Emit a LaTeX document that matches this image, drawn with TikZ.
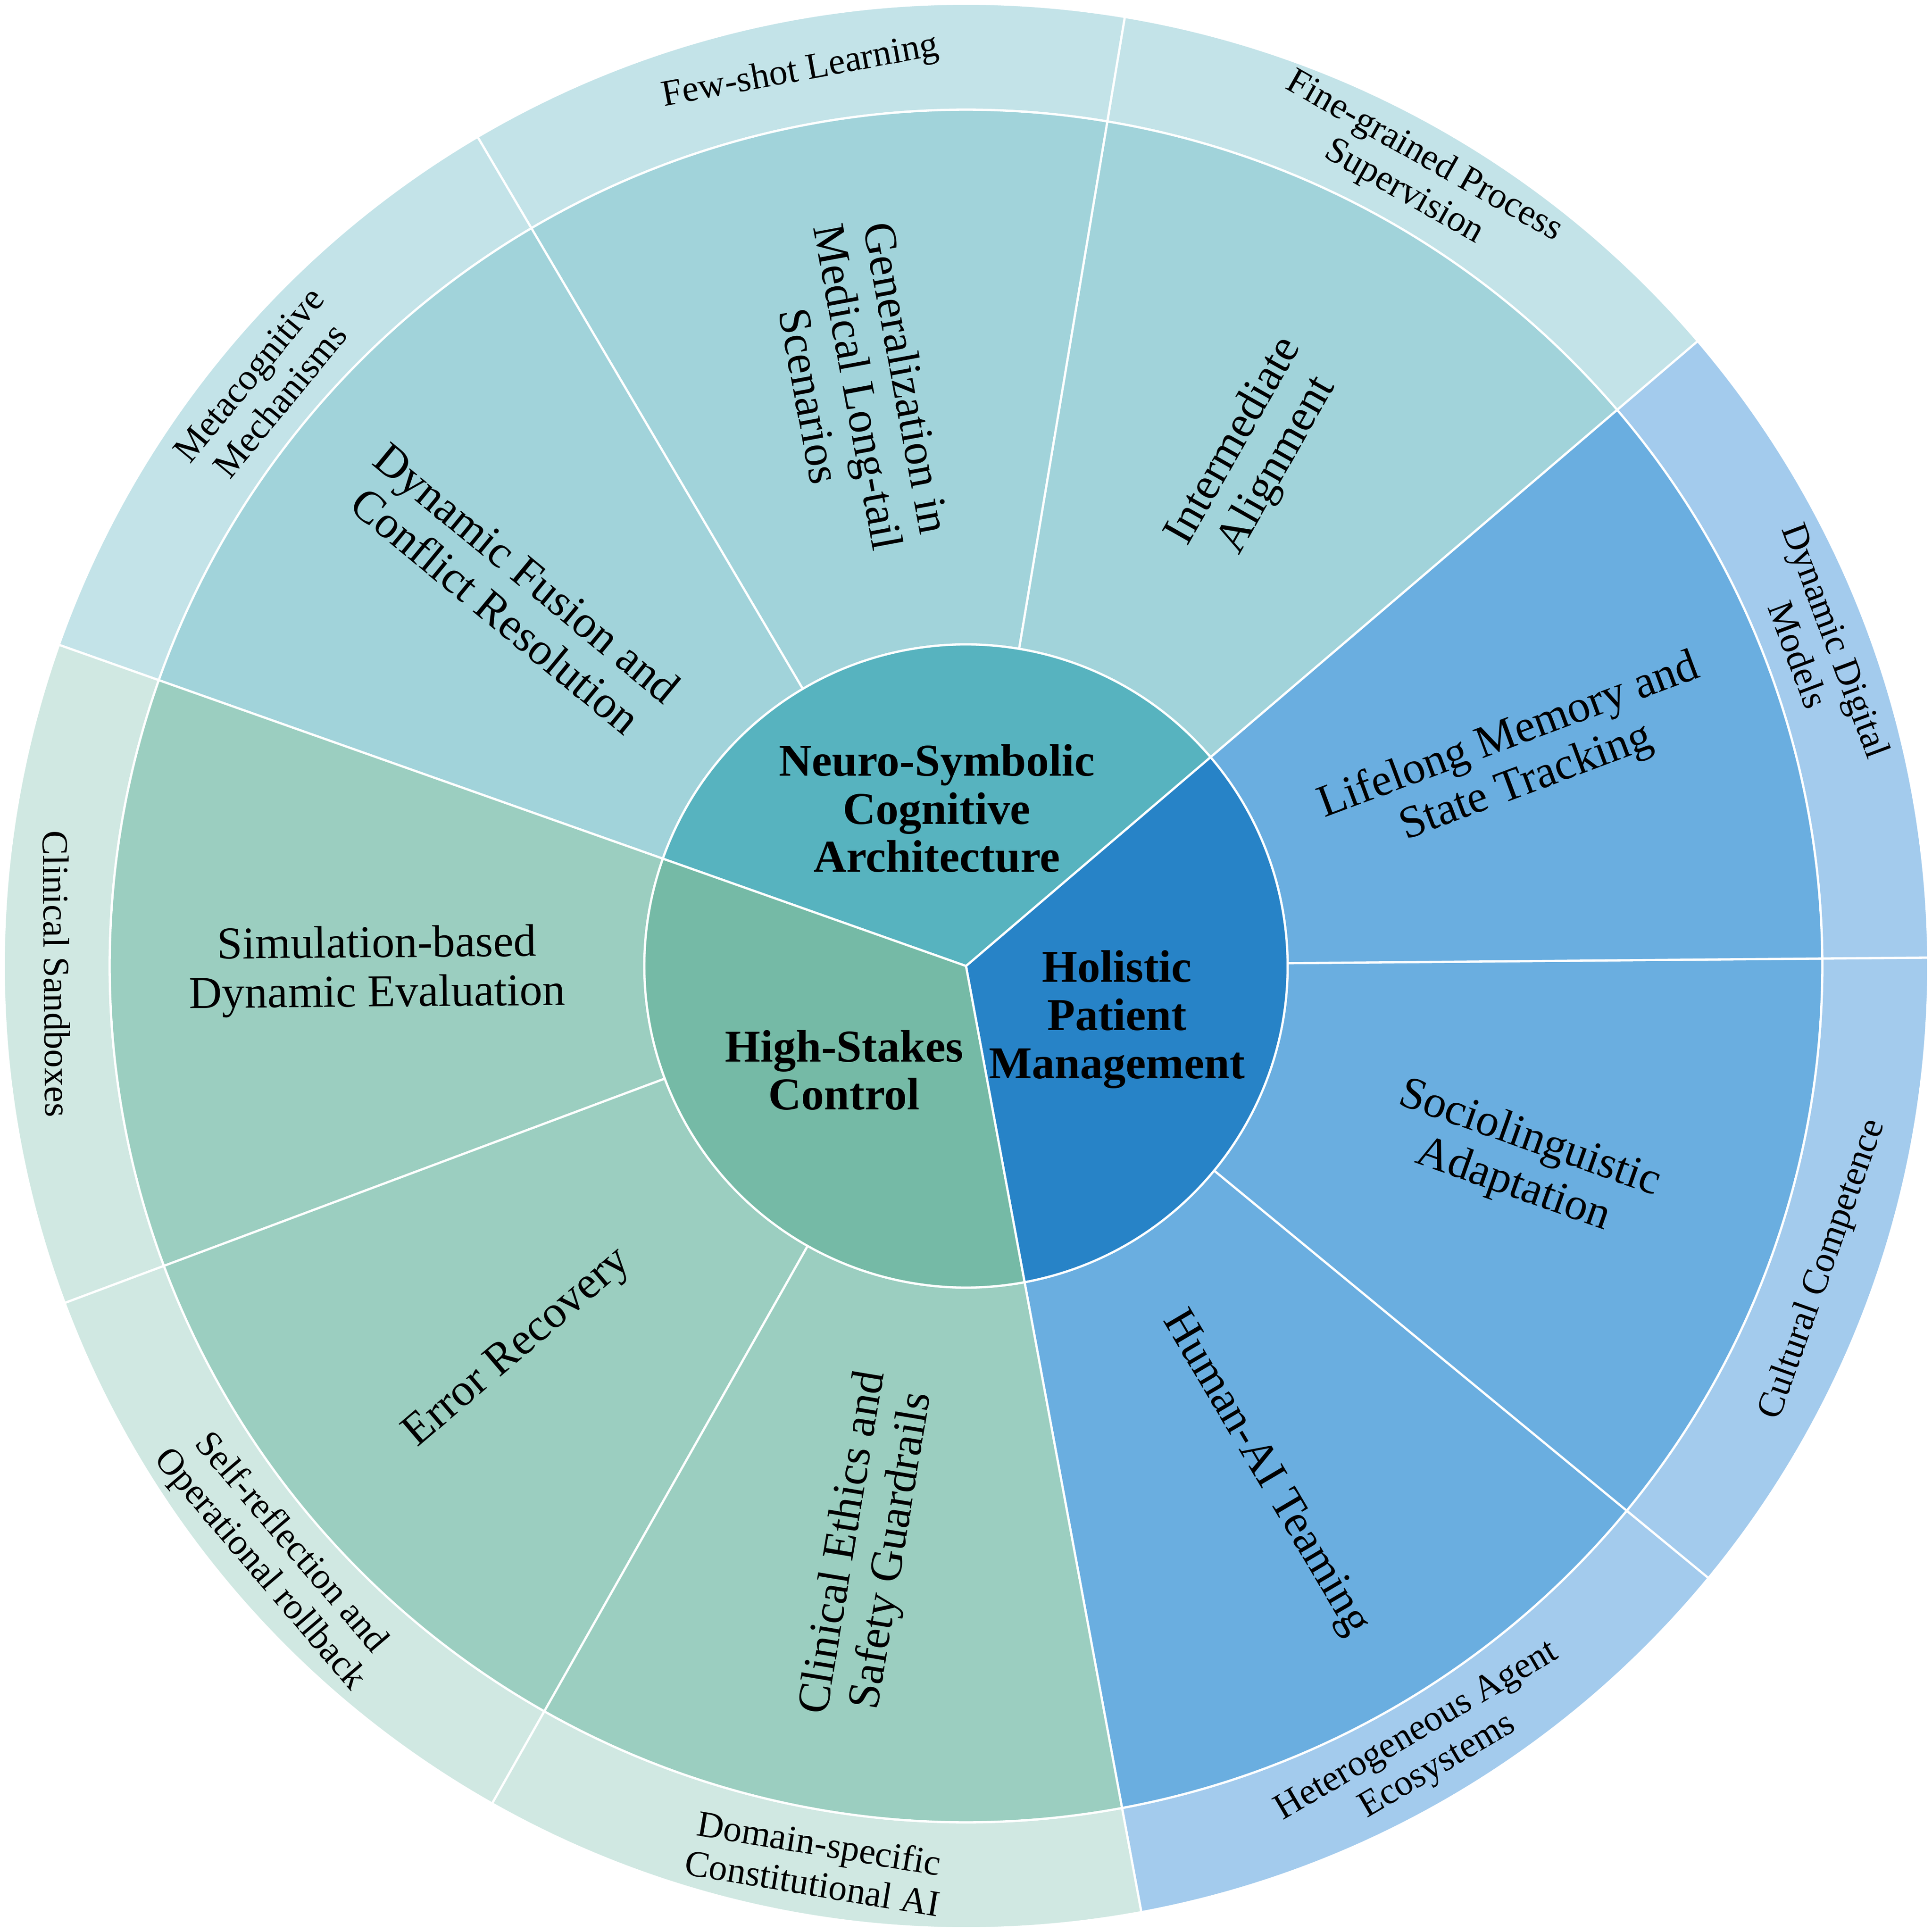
\documentclass[tikz,border=0pt]{standalone}
\usepackage{fontspec}
\setmainfont{Liberation Serif}
\usepackage{tikz}
\definecolor{hpmIn}{HTML}{2783C7}
\definecolor{hpmMid}{HTML}{6AAEE0}
\definecolor{hpmOut}{HTML}{A3CBED}
\definecolor{nscIn}{HTML}{57B3BF}
\definecolor{nscMid}{HTML}{A1D3DA}
\definecolor{nscOut}{HTML}{C3E3E8}
\definecolor{hscIn}{HTML}{75BAA6}
\definecolor{hscMid}{HTML}{9BCEC0}
\definecolor{hscOut}{HTML}{D0E8E2}

\begin{document}
\begin{tikzpicture}[
  seg/.style={draw=white, line width=1.8pt},
  hub/.style={font=\fontsize{37}{39}\selectfont\bfseries, align=center, inner sep=0pt},
  mid/.style={font=\fontsize{37}{40}\selectfont, align=center, inner sep=0pt},
  rim/.style={font=\fontsize{30}{33}\selectfont, align=center, inner sep=0pt}]
\useasboundingbox (-784pt,-784pt) rectangle (784pt,784pt);
% outer ring
\foreach \s/\c in {-79.5/hpmOut, -39.5/hpmOut, 0.5/hpmOut, 40.5/nscOut, 80.5/nscOut, 120.5/nscOut, 160.5/hscOut, 200.5/hscOut, 240.5/hscOut}
  \filldraw[seg, fill=\c] (\s:695pt) arc[start angle=\s, end angle=\s+40, radius=695pt] -- (\s+40:781pt) arc[start angle=\s+40, end angle=\s, radius=781pt] -- cycle;
% middle ring
\foreach \s/\c in {-79.5/hpmMid, -39.5/hpmMid, 0.5/hpmMid, 40.5/nscMid, 80.5/nscMid, 120.5/nscMid, 160.5/hscMid, 200.5/hscMid, 240.5/hscMid}
  \filldraw[seg, fill=\c] (\s:261pt) arc[start angle=\s, end angle=\s+40, radius=261pt] -- (\s+40:695pt) arc[start angle=\s+40, end angle=\s, radius=695pt] -- cycle;
% hub
\foreach \s/\c in {-79.5/hpmIn, 40.5/nscIn, 160.5/hscIn}
  \filldraw[seg, fill=\c] (0,0) -- (\s:261pt) arc[start angle=\s, end angle=\s+120, radius=261pt] -- cycle;

\node[hub] (nsc) at (100.5:130pt) {Neuro-Symbolic\\Cognitive\\Architecture};
\node[hub] (hpm) at (-19.5:130pt) {Holistic\\Patient\\Management};
\node[hub] (hsc) at (220.5:130pt) {High-Stakes\\Control};

\node[mid, rotate=20.5] (lmst) at (20.5:478pt) {Lifelong Memory and\\State Tracking};
\node[mid, rotate=-19.5] (sla) at (-19.5:478pt) {Sociolinguistic\\Adaptation};
\node[mid, rotate=-59.5] (hat) at (-59.5:478pt) {Human-AI Teaming};
\node[mid, rotate=60.5] (ia) at (60.5:478pt) {Intermediate\\Alignment};
\node[mid, rotate=-79.5] (gml) at (100.5:478pt) {Generalization in\\Medical Long-tail\\Scenarios};
\node[mid, rotate=-39.5] (dfcr) at (140.5:478pt) {Dynamic Fusion and\\Conflict Resolution};
\node[mid, rotate=0.5] (sde) at (180.5:478pt) {Simulation-based\\Dynamic Evaluation};
\node[mid, rotate=40.5] (er) at (220.5:478pt) {Error Recovery};
\node[mid, rotate=80.5] (cesg) at (260.5:478pt) {Clinical Ethics and\\Safety Guardrails};

\node[rim, rotate=-69.5] (ddm) at (20.5:738pt) {Dynamic Digital\\Models};
\node[rim, rotate=70.5] (cc) at (-19.5:738pt) {Cultural Competence};
\node[rim, rotate=30.5] (hae) at (-59.5:738pt) {Heterogeneous Agent\\Ecosystems};
\node[rim, rotate=-29.5] (fgps) at (60.5:738pt) {Fine-grained Process\\Supervision};
\node[rim, rotate=10.5] (fsl) at (100.5:738pt) {Few-shot Learning};
\node[rim, rotate=50.5] (mm) at (140.5:738pt) {Metacognitive\\Mechanisms};
\node[rim, rotate=-89.5] (cs) at (180.5:738pt) {Clinical Sandboxes};
\node[rim, rotate=-49.5] (sroa) at (220.5:738pt) {Self-reflection and\\Operational rollback};
\node[rim, rotate=-9.5] (dsca) at (260.5:738pt) {Domain-specific\\Constitutional AI};
\end{tikzpicture}
\end{document}
